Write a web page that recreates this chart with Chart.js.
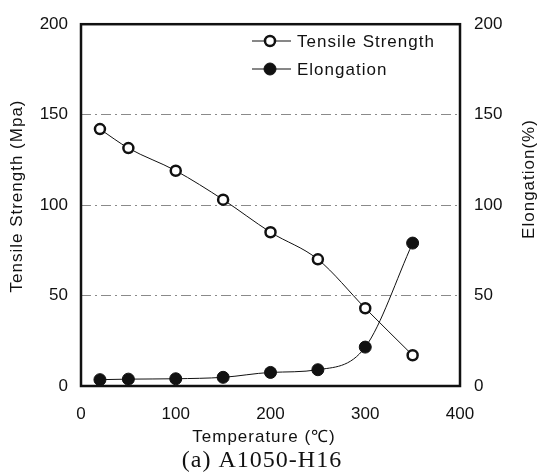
<!DOCTYPE html>
<html lang="en">

<head>
    <meta charset="UTF-8">
    <title>A1050-H16</title>
    <style>
        html, body { margin: 0; padding: 0; background: #fff; }
        #wrap { width: 539px; height: 476px; }
    </style>
</head>

<body>
    <div id="wrap">
        <canvas id="myChart" width="539" height="476"></canvas>
    </div>

    <script src="https://cdn.jsdelivr.net/npm/chart.js"></script>
    <script>
        // test temperatures (°C)
        const temps = [20, 50, 100, 150, 200, 250, 300, 350];
        // tensile strength (MPa) and elongation (%) at each temperature
        const tensile = [142, 131.5, 119, 103, 85, 70, 43, 17];
        const elongation = [3.5, 3.8, 4, 4.8, 7.5, 9, 21.5, 79];

        const xTicks = [0, 100, 200, 300, 400];
        const yTicks = [0, 50, 100, 150, 200];

        const FONT = "'Liberation Sans', Arial, sans-serif";
        const INK = '#111';

        const points = (ys) => temps.map((t, i) => ({ x: t, y: ys[i] }));

        // dash-dot lines at the inner ticks only
        const gridColor = (ctx) => {
            const v = ctx.tick && ctx.tick.value;
            return (v === 0 || v === 200) ? 'rgba(0,0,0,0)' : '#8a8a8a';
        };

        // frame, axis titles, caption and the inset legend
        const decorations = {
            id: 'decorations',
            afterDraw(chart) {
                const { ctx, chartArea: a } = chart;
                ctx.save();
                ctx.strokeStyle = INK;
                ctx.lineWidth = 2.5;
                ctx.strokeRect(a.left, a.top, a.right - a.left, a.bottom - a.top);

                ctx.fillStyle = INK;
                ctx.textAlign = 'center';
                ctx.textBaseline = 'middle';
                ctx.letterSpacing = '1px';

                ctx.font = '17px ' + FONT;
                ctx.fillText('Temperature (\u2103)', 264, 437);

                ctx.save();
                ctx.translate(17, 196);
                ctx.rotate(-Math.PI / 2);
                ctx.fillText('Tensile Strength (Mpa)', 0, 0);
                ctx.restore();

                ctx.save();
                ctx.translate(529, 179);
                ctx.rotate(-Math.PI / 2);
                ctx.fillText('Elongation(%)', 0, 0);
                ctx.restore();

                ctx.font = '24px "Liberation Serif", "Times New Roman", serif';
                ctx.fillText('(a) A1050-H16', 262, 461);

                // legend entries taken from the datasets
                ctx.textAlign = 'left';
                ctx.font = '17px ' + FONT;
                chart.data.datasets.forEach((ds, i) => {
                    const y = 41 + i * 28;
                    ctx.strokeStyle = ds.borderColor;
                    ctx.lineWidth = 1.2;
                    ctx.beginPath();
                    ctx.moveTo(252, y);
                    ctx.lineTo(291, y);
                    ctx.stroke();
                    ctx.beginPath();
                    ctx.arc(270, y, ds.pointRadius, 0, Math.PI * 2);
                    ctx.fillStyle = ds.pointBackgroundColor;
                    ctx.fill();
                    ctx.lineWidth = ds.pointBorderWidth;
                    ctx.strokeStyle = ds.pointBorderColor;
                    ctx.stroke();
                    ctx.fillStyle = INK;
                    ctx.fillText(ds.label, 297, y + 1);
                });
                ctx.restore();
            }
        };

        const tickFont = { family: FONT, size: 17 };

        new Chart(document.getElementById('myChart'), {
            type: 'line',
            data: {
                datasets: [
                    {
                        label: 'Tensile Strength',
                        data: points(tensile),
                        yAxisID: 'y',
                        borderColor: INK,
                        borderWidth: 1,
                        pointRadius: 5,
                        pointBorderWidth: 2.5,
                        pointBackgroundColor: '#fff',
                        pointBorderColor: INK,
                        cubicInterpolationMode: 'monotone'
                    },
                    {
                        label: 'Elongation',
                        data: points(elongation),
                        yAxisID: 'y2',
                        borderColor: INK,
                        borderWidth: 1,
                        pointRadius: 6,
                        pointBorderWidth: 1,
                        pointBackgroundColor: INK,
                        pointBorderColor: INK,
                        cubicInterpolationMode: 'monotone'
                    }
                ]
            },
            options: {
                responsive: false,
                animation: false,
                layout: { padding: { top: 18, left: 0, right: 0, bottom: 0 } },
                plugins: {
                    legend: { display: false },
                    tooltip: { enabled: false }
                },
                scales: {
                    x: {
                        type: 'linear',
                        min: 0,
                        max: 400,
                        afterBuildTicks: (s) => { s.ticks = xTicks.map(v => ({ value: v })); },
                        afterFit: (s) => { s.height = 90; },
                        grid: { display: false, drawTicks: false },
                        border: { display: false },
                        ticks: { color: INK, font: tickFont, padding: 18, maxRotation: 0 }
                    },
                    y: {
                        position: 'left',
                        min: 0,
                        max: 200,
                        afterBuildTicks: (s) => { s.ticks = yTicks.map(v => ({ value: v })); },
                        afterFit: (s) => { s.width = 81; },
                        grid: { color: gridColor, lineWidth: 1, drawTicks: false },
                        border: { display: false, dash: [10, 4, 2, 4] },
                        ticks: { color: INK, font: tickFont, padding: 13 }
                    },
                    y2: {
                        position: 'right',
                        min: 0,
                        max: 200,
                        afterBuildTicks: (s) => { s.ticks = yTicks.map(v => ({ value: v })); },
                        afterFit: (s) => { s.width = 79; },
                        grid: { display: false, drawTicks: false },
                        border: { display: false },
                        ticks: { color: INK, font: tickFont, padding: 14 }
                    }
                }
            },
            plugins: [decorations]
        });
    </script>

</body>

</html>
